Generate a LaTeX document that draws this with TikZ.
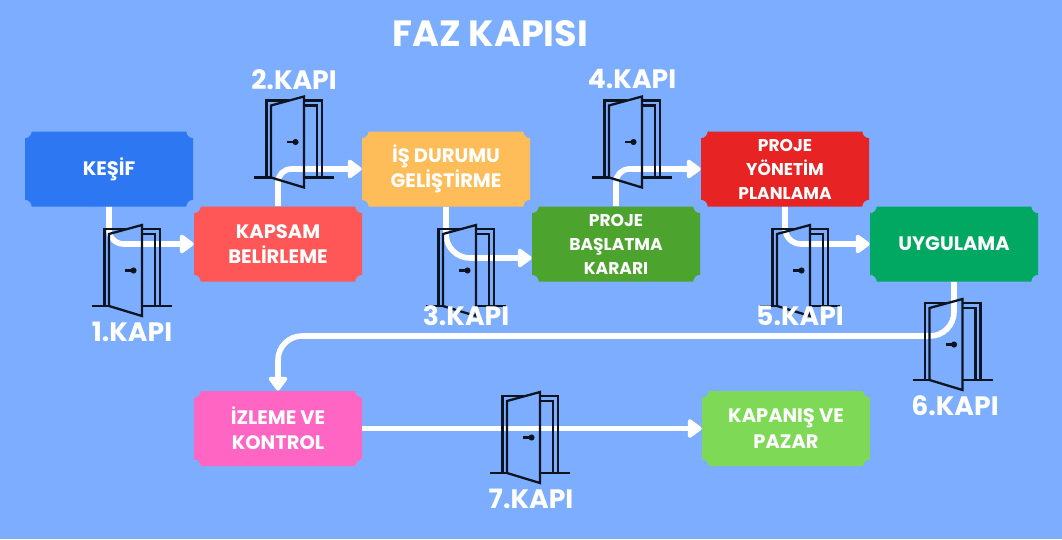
\documentclass[tikz,border=0pt]{standalone}
\usepackage{fontspec}
\setmainfont{Poppins}
\usetikzlibrary{arrows.meta,calc}
\definecolor{bgblue}{HTML}{7DADFF}
\definecolor{cblue}{HTML}{2D78F2}
\definecolor{ccoral}{HTML}{FF5757}
\definecolor{corange}{HTML}{FFBD59}
\definecolor{cgreen}{HTML}{4CA42F}
\definecolor{cred}{HTML}{E82323}
\definecolor{cemerald}{HTML}{00A862}
\definecolor{cpink}{HTML}{FF66C4}
\definecolor{clime}{HTML}{7ED957}
\definecolor{doorline}{HTML}{0B1420}
\tikzset{
  ticket/.style={minimum width=126pt,minimum height=56.25pt,inner sep=0pt,align=center,text=white,
    font=\fontsize{14.6}{19}\selectfont\bfseries,
    path picture={\fill[#1]
      ([xshift=5pt]path picture bounding box.north west)
      -- ([xshift=-5pt]path picture bounding box.north east)
      arc[start angle=180,end angle=270,radius=5pt]
      -- ([yshift=5pt]path picture bounding box.south east)
      arc[start angle=90,end angle=180,radius=5pt]
      -- ([xshift=5pt]path picture bounding box.south west)
      arc[start angle=0,end angle=90,radius=5pt]
      -- ([yshift=-5pt]path picture bounding box.north west)
      arc[start angle=-90,end angle=0,radius=5pt] -- cycle;}},
  smalltext/.style={font=\fontsize{12.8}{18}\selectfont\bfseries},
  conn/.style={draw=white,line width=4.2pt,-{Triangle[round,length=11.5pt,width=16pt]}},
  gatelabel/.style={text=white,inner sep=0pt,font=\fontsize{20}{24}\selectfont\bfseries},
  titlelabel/.style={text=white,inner sep=0pt,font=\fontsize{27.4}{30}\selectfont\bfseries},
  doorstroke/.style={draw=doorline,line width=1.7pt,line join=miter},
  door/.pic={
    \draw[doorstroke] (-40,0) -- (-23,0);
    \draw[doorstroke] (-23,0) -- (10,10) -- (10,-81) -- (-23,-72) -- cycle;
    \draw[doorstroke] (10,0) -- (40,0);
    \draw[doorstroke] (-27.5,0) -- (-27.5,-77) -- (-5,-77);
    \draw[doorstroke] (10,-77) -- (28,-77) -- (28,0);
    \draw[doorstroke] (10,-72) -- (23,-72) -- (23,0);
    \draw[doorstroke] (-7,-35.5) -- (1.5,-35.5);
    \fill[doorline] (1.5,-35.5) circle[radius=2.3pt];
  }
}
\begin{document}
\begin{tikzpicture}[x=0.75pt,y=-0.75pt]
\fill[bgblue] (0,0) rectangle (1062,539);
\useasboundingbox (0,0) rectangle (1062,539);
\node[ticket=cblue] (kesif) at (109,169) {KEŞİF};
\node[ticket=ccoral] (kapsam) at (278,244) {KAPSAM\\BELİRLEME};
\node[ticket=corange] (is) at (446,169) {İŞ DURUMU\\GELİŞTİRME};
\node[ticket=cgreen,smalltext] (baslat) at (616,244) {PROJE\\BAŞLATMA\\KARARI};
\node[ticket=cred,smalltext] (yonetim) at (785,169) {PROJE\\YÖNETİM\\PLANLAMA};
\node[ticket=cemerald] (uygulama) at (954,244) {UYGULAMA};
\node[ticket=cpink] (izleme) at (278,428.5) {İZLEME VE\\KONTROL};
\node[ticket=clime] (kapanis) at (786,428.5) {KAPANIŞ VE\\PAZAR};
\coordinate (baslatin) at ($(baslat.west)+(0,14)$);
\coordinate (turn) at (616,336);
\draw[conn,rounded corners=11pt] (kesif.south) |- (kapsam.west);
\draw[conn,rounded corners=10pt] (kapsam.north) |- (is.west);
\draw[conn,rounded corners=18pt] (is.south) |- (baslatin);
\draw[conn,rounded corners=10pt] (baslat.north) |- (yonetim.west);
\draw[conn,rounded corners=12pt] (yonetim.south) |- (uygulama.west);
\draw[conn,rounded corners=18pt] (uygulama.south) |- (turn) -| (izleme.north);
\draw[conn] (izleme.east) -- (kapanis.west);
\pic at (132,306) {door};
\pic at (294,177.5) {door};
\pic at (466,306) {door};
\pic at (632,177.5) {door};
\pic at (800,306) {door};
\pic at (952.5,380) {door};
\pic at (530,473) {door};
\node[titlelabel] (title) at (490,34) {FAZ KAPISI};
\node[gatelabel] (k1) at (132,332) {1.KAPI};
\node[gatelabel] (k2) at (294,80) {2.KAPI};
\node[gatelabel] (k3) at (466,316) {3.KAPI};
\node[gatelabel] (k4) at (632,79) {4.KAPI};
\node[gatelabel] (k5) at (800,316) {5.KAPI};
\node[gatelabel] (k6) at (955,406) {6.KAPI};
\node[gatelabel] (k7) at (531,499) {7.KAPI};
\end{tikzpicture}
\end{document}
